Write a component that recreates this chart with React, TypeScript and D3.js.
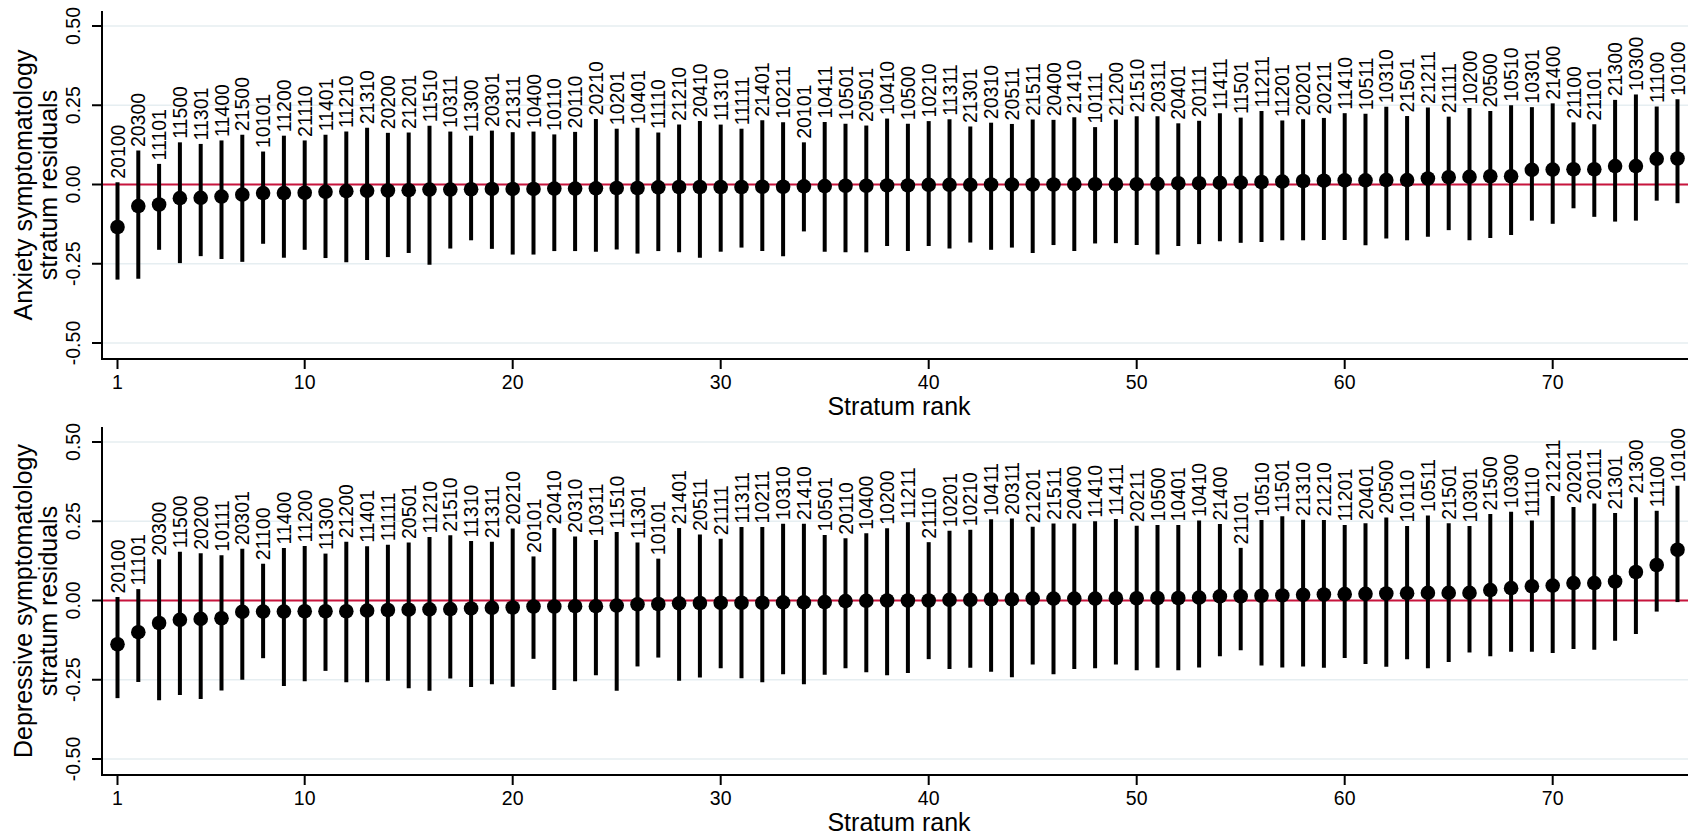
import React from "react";
import * as d3 from "d3";

// ---------- DATA ----------
const anxLabels = ["20100","20300","11101","11500","11301","11400","21500","10101","11200","21110",
"11401","11210","21310","20200","21201","11510","10311","11300","20301","21311",
"10400","10110","20110","20210","10201","10401","11110","21210","20410","11310",
"11111","21401","10211","20101","10411","10501","20501","10410","10500","10210",
"11311","21301","20310","20511","21511","20400","21410","10111","21200","21510",
"20311","20401","20111","11411","11501","11211","11201","20201","20211","11410",
"10511","10310","21501","21211","21111","10200","20500","10510","10301","21400",
"21100","21101","21300","10300","11100","10100"];
const anxEst = [-0.134,-0.068,-0.063,-0.043,-0.042,-0.038,-0.032,-0.027,-0.027,-0.026,
-0.023,-0.021,-0.020,-0.019,-0.018,-0.016,-0.016,-0.015,-0.014,-0.014,
-0.014,-0.013,-0.013,-0.012,-0.011,-0.011,-0.009,-0.008,-0.008,-0.008,
-0.008,-0.007,-0.007,-0.006,-0.005,-0.004,-0.004,-0.003,-0.003,-0.001,
-0.001,-0.001,0.000,0.000,0.000,0.000,0.001,0.001,0.001,0.001,
0.002,0.004,0.004,0.005,0.006,0.008,0.009,0.011,0.012,0.013,
0.013,0.014,0.014,0.019,0.023,0.024,0.026,0.026,0.046,0.047,
0.048,0.048,0.058,0.058,0.081,0.082];
const anxHi = [0.007,0.107,0.065,0.133,0.128,0.139,0.157,0.104,0.154,0.139,
0.157,0.167,0.179,0.163,0.164,0.185,0.167,0.154,0.170,0.165,
0.167,0.158,0.166,0.207,0.176,0.179,0.164,0.189,0.200,0.189,
0.176,0.203,0.196,0.133,0.197,0.192,0.186,0.208,0.192,0.200,
0.206,0.183,0.195,0.191,0.205,0.204,0.212,0.181,0.205,0.215,
0.215,0.193,0.201,0.225,0.211,0.232,0.202,0.206,0.210,0.225,
0.223,0.245,0.216,0.243,0.214,0.241,0.232,0.250,0.244,0.256,
0.196,0.190,0.267,0.284,0.246,0.269];
const anxLo = [-0.300,-0.297,-0.206,-0.248,-0.226,-0.235,-0.244,-0.187,-0.231,-0.206,
-0.232,-0.245,-0.238,-0.229,-0.216,-0.253,-0.202,-0.176,-0.203,-0.221,
-0.221,-0.210,-0.210,-0.212,-0.205,-0.218,-0.210,-0.214,-0.231,-0.212,
-0.199,-0.210,-0.226,-0.148,-0.212,-0.214,-0.214,-0.194,-0.210,-0.194,
-0.202,-0.183,-0.206,-0.199,-0.216,-0.191,-0.210,-0.186,-0.185,-0.191,
-0.221,-0.194,-0.188,-0.179,-0.184,-0.181,-0.176,-0.176,-0.175,-0.175,
-0.192,-0.170,-0.176,-0.165,-0.144,-0.176,-0.169,-0.159,-0.114,-0.124,
-0.075,-0.102,-0.117,-0.114,-0.051,-0.059];

const depLabels = ["20100","11101","20300","11500","20200","10111","20301","21100","11400","11200",
"11300","21200","11401","11111","20501","11210","21510","11310","21311","20210",
"20101","20410","20310","10311","11510","11301","10101","21401","20511","21111",
"11311","10211","10310","21410","10501","20110","10400","10200","11211","21110",
"10201","10210","10411","20311","21201","21511","20400","11410","11411","20211",
"10500","10401","10410","21400","21101","10510","11501","21310","21210","11201",
"20401","20500","10110","10511","21501","10301","21500","10300","11110","21211",
"20201","20111","21301","21300","11100","10100"];
const depEst = [-0.138,-0.100,-0.071,-0.061,-0.058,-0.056,-0.036,-0.035,-0.035,-0.034,
-0.034,-0.034,-0.032,-0.030,-0.029,-0.028,-0.027,-0.025,-0.023,-0.022,
-0.019,-0.019,-0.018,-0.018,-0.016,-0.012,-0.011,-0.009,-0.008,-0.007,
-0.007,-0.007,-0.006,-0.006,-0.005,-0.002,-0.001,0.000,0.000,0.000,
0.002,0.002,0.004,0.004,0.006,0.006,0.006,0.006,0.007,0.007,
0.008,0.008,0.009,0.013,0.013,0.015,0.016,0.018,0.019,0.020,
0.021,0.022,0.023,0.024,0.024,0.024,0.033,0.039,0.045,0.047,
0.055,0.055,0.060,0.090,0.112,0.160];
const depHi = [0.011,0.036,0.130,0.154,0.149,0.143,0.163,0.116,0.166,0.172,
0.148,0.185,0.171,0.176,0.183,0.200,0.206,0.188,0.185,0.227,
0.139,0.229,0.202,0.191,0.216,0.183,0.132,0.229,0.208,0.195,
0.232,0.232,0.242,0.242,0.207,0.196,0.212,0.228,0.247,0.184,
0.220,0.223,0.256,0.259,0.233,0.243,0.243,0.250,0.257,0.236,
0.238,0.238,0.252,0.241,0.166,0.254,0.266,0.255,0.254,0.238,
0.244,0.262,0.235,0.268,0.244,0.235,0.273,0.280,0.252,0.330,
0.295,0.306,0.276,0.326,0.283,0.362];
const depLo = [-0.308,-0.257,-0.315,-0.298,-0.311,-0.284,-0.250,-0.182,-0.270,-0.255,
-0.222,-0.258,-0.258,-0.253,-0.277,-0.285,-0.246,-0.273,-0.264,-0.272,
-0.184,-0.282,-0.255,-0.236,-0.285,-0.208,-0.180,-0.253,-0.243,-0.214,
-0.245,-0.258,-0.233,-0.264,-0.234,-0.214,-0.226,-0.236,-0.229,-0.185,
-0.216,-0.212,-0.225,-0.242,-0.202,-0.233,-0.216,-0.214,-0.202,-0.220,
-0.212,-0.220,-0.211,-0.176,-0.157,-0.205,-0.211,-0.208,-0.212,-0.181,
-0.200,-0.209,-0.185,-0.214,-0.194,-0.164,-0.176,-0.162,-0.162,-0.166,
-0.153,-0.155,-0.127,-0.106,-0.035,-0.005];

const xTicks = [1, 10, 20, 30, 40, 50, 60, 70];
const yTicks = [-0.5, -0.25, 0, 0.25, 0.5];
const yTickLabels = ["-0.50", "-0.25", "0.00", "0.25", "0.50"];
const xTitle = "Stratum rank";
const anxTitle = ["Anxiety symptomatology", "stratum residuals"];
const depTitle = ["Depressive symptomatology", "stratum residuals"];

// ---------- LAYOUT ----------
const W = 1688;
const H = 838;
const FONT = "'Liberation Sans', Arial, Helvetica, sans-serif";
const AXIS_X = 102;
const x = d3.scaleLinear().domain([1, 76]).range([117.5, 1677.5]);

type PanelProps = {
  offset: number;
  labels: string[];
  est: number[];
  lo: number[];
  hi: number[];
  title: string[];
};

function Panel({ offset, labels, est, lo, hi, title }: PanelProps) {
  const y = d3.scaleLinear().domain([-0.5, 0.5]).range([343 + offset, 26 + offset]);
  const top = 11 + offset;
  const bottom = 359 + offset;
  const midY = (top + bottom) / 2;
  const ranks = d3.range(1, labels.length + 1);
  return (
    <g>
      {/* gridlines */}
      {yTicks.map((t) => (
        <line key={"g" + t} x1={AXIS_X} x2={W} y1={y(t)} y2={y(t)} stroke="#e6eef1" strokeWidth={1.6} />
      ))}
      {/* zero line */}
      <line x1={AXIS_X} x2={W} y1={y(0)} y2={y(0)} stroke="#c8143c" strokeWidth={2.2} />
      {/* whiskers */}
      {ranks.map((r, i) => (
        <line key={"w" + r} x1={x(r)} x2={x(r)} y1={y(hi[i])} y2={y(lo[i])} stroke="#000" strokeWidth={4} />
      ))}
      {/* points */}
      {ranks.map((r, i) => (
        <circle key={"p" + r} cx={x(r)} cy={y(est[i])} r={7.3} fill="#000" />
      ))}
      {/* stratum labels */}
      {ranks.map((r, i) => (
        <text
          key={"l" + r}
          transform={`translate(${x(r) + 7},${y(hi[i]) - 3.5}) rotate(-90)`}
          fontSize={19.5}
          fontFamily={FONT}
          fill="#000"
        >
          {labels[i]}
        </text>
      ))}
      {/* axes */}
      <line x1={AXIS_X} x2={AXIS_X} y1={top} y2={bottom + 1} stroke="#000" strokeWidth={2} />
      <line x1={AXIS_X - 1} x2={W} y1={bottom} y2={bottom} stroke="#000" strokeWidth={2} />
      {yTicks.map((t, i) => (
        <g key={"yt" + t}>
          <line x1={AXIS_X - 10} x2={AXIS_X} y1={y(t)} y2={y(t)} stroke="#000" strokeWidth={2} />
          <text
            transform={`translate(80,${y(t)}) rotate(-90)`}
            textAnchor="middle"
            fontSize={19.5}
            fontFamily={FONT}
            fill="#000"
          >
            {yTickLabels[i]}
          </text>
        </g>
      ))}
      {xTicks.map((t) => (
        <g key={"xt" + t}>
          <line x1={x(t)} x2={x(t)} y1={bottom} y2={bottom + 10} stroke="#000" strokeWidth={2} />
          <text x={x(t)} y={bottom + 30} textAnchor="middle" fontSize={19.5} fontFamily={FONT} fill="#000">
            {t}
          </text>
        </g>
      ))}
      <text x={899} y={bottom + 56} textAnchor="middle" fontSize={25} fontFamily={FONT} fill="#000">
        {xTitle}
      </text>
      <text transform={`translate(32,${midY}) rotate(-90)`} textAnchor="middle" fontSize={25} fontFamily={FONT} fill="#000">
        {title[0]}
      </text>
      <text transform={`translate(57,${midY}) rotate(-90)`} textAnchor="middle" fontSize={25} fontFamily={FONT} fill="#000">
        {title[1]}
      </text>
    </g>
  );
}

export default function App() {
  return (
    <svg
      width={W}
      height={H}
      viewBox={`0 0 ${W} ${H}`}
      style={{ position: "absolute", left: 0, top: 0, background: "#fff", display: "block" }}
    >
      <rect x={0} y={0} width={W} height={H} fill="#fff" />
      <Panel offset={0} labels={anxLabels} est={anxEst} lo={anxLo} hi={anxHi} title={anxTitle} />
      <Panel offset={416} labels={depLabels} est={depEst} lo={depLo} hi={depHi} title={depTitle} />
    </svg>
  );
}
